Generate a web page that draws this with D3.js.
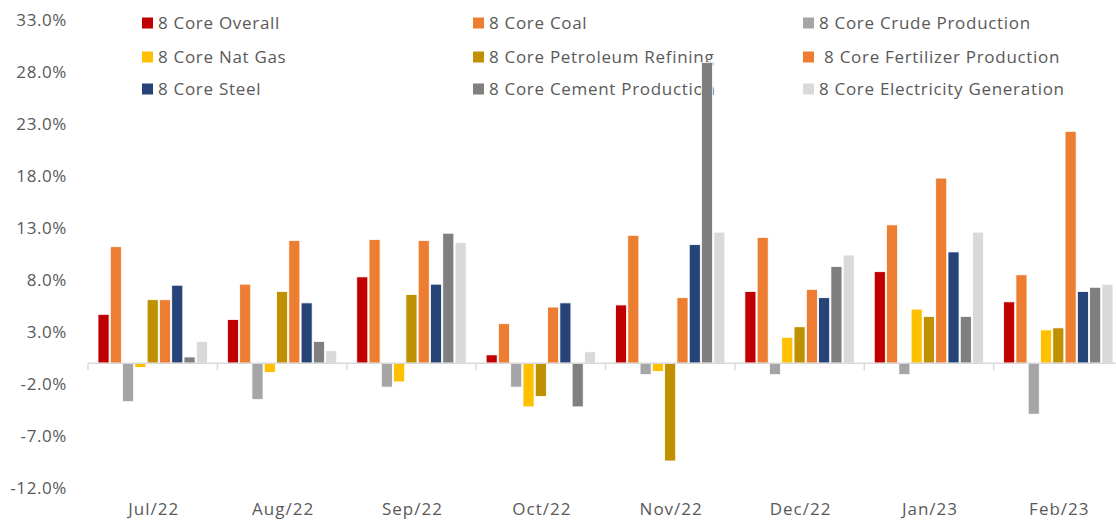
<!DOCTYPE html>
<html lang="en">
<head>
<meta charset="utf-8">
<title>8 Core growth</title>
<script src="https://d3js.org/d3.v7.min.js"></script>
<style>
  body { margin: 0; background: #fff; }
  text { font-family: "Open Sans", sans-serif; fill: #595959; }
</style>
</head>
<body>
<script>
// months on x axis
var months = ["Jul/22", "Aug/22", "Sep/22", "Oct/22", "Nov/22", "Dec/22", "Jan/23", "Feb/23"];

// series names (legend order = bar order)
var seriesNames = ["8 Core Overall", "8 Core Coal", "8 Core Crude Production",
                   "8 Core Nat Gas", "8 Core Petroleum Refining", " 8 Core Fertilizer Production",
                   "8 Core Steel", "8 Core Cement Production", "8 Core Electricity Generation"];
var colors = ["#c00000", "#ed7d31", "#a5a5a5", "#ffc000", "#bf9000", "#ed7d31", "#264478", "#7f7f7f", "#d9d9d9"];

// values in %, one array per series, by month
var overall     = [4.7, 4.2, 8.3, 0.8, 5.6, 6.9, 8.8, 5.9];
var coal        = [11.2, 7.6, 11.9, 3.8, 12.3, 12.1, 13.3, 8.5];
var crude       = [-3.7, -3.5, -2.3, -2.3, -1.1, -1.1, -1.1, -4.9];
var natGas      = [-0.4, -0.9, -1.8, -4.2, -0.8, 2.5, 5.2, 3.2];
var refinery    = [6.1, 6.9, 6.6, -3.2, -9.4, 3.5, 4.5, 3.4];
var fertilizer  = [6.1, 11.8, 11.8, 5.4, 6.3, 7.1, 17.8, 22.3];
var steel       = [7.5, 5.8, 7.6, 5.8, 11.4, 6.3, 10.7, 6.9];
var cement      = [0.6, 2.1, 12.5, -4.2, 28.9, 9.3, 4.5, 7.3];
var electricity = [2.1, 1.2, 11.6, 1.1, 12.6, 10.4, 12.6, 7.6];

var yTicks = [-12, -7, -2, 3, 8, 13, 18, 23, 28, 33];

var allSeries = [overall, coal, crude, natGas, refinery, fertilizer, steel, cement, electricity];

var w = 1116, h = 530;
var plot = {left: 88, right: 1123, top: 20, bottom: 488};

var svg = d3.select("body").append("svg")
  .attr("width", w)
  .attr("height", h);

var x0 = d3.scaleBand()
  .domain(months)
  .range([plot.left, plot.right])
  .padding(0);

var x1 = d3.scaleBand()
  .domain(d3.range(seriesNames.length))
  .range([10, x0.bandwidth() - 10])
  .paddingInner(0.1);

var y = d3.scaleLinear()
  .domain([-12, 33])
  .range([plot.bottom, plot.top]);

// legend first so the tall bars sit on top of it, 3 columns x 3 rows
var legX = [142, 473, 803];
var legY = [23, 57, 89];

var leg = svg.selectAll("g.leg")
  .data(seriesNames)
  .enter()
  .append("g")
  .attr("class", "leg")
  .attr("transform", function(d, i){
    return "translate(" + legX[i % 3] + "," + legY[Math.floor(i / 3)] + ")";
  });

leg.append("rect")
  .attr("x", 0)
  .attr("y", -5.5)
  .attr("width", 11)
  .attr("height", 11)
  .attr("fill", function(d, i){ return colors[i]; });

leg.append("text")
  .attr("x", 16)
  .attr("y", 0)
  .attr("dy", "0.35em")
  .style("font-size", "17px")
  .style("letter-spacing", "0.7px")
  .style("white-space", "pre")
  .attr("xml:space", "preserve")
  .text(function(d){ return d; });

// y axis labels
var yAxis = d3.axisLeft(y)
  .tickValues(yTicks)
  .tickSize(0)
  .tickPadding(0)
  .tickFormat(function(d){ return d.toFixed(1) + "%"; });

svg.append("g")
  .attr("transform", "translate(67,0)")
  .call(yAxis)
  .call(function(g){ g.select(".domain").remove(); })
  .selectAll("text")
  .style("font-size", "17px")
  .style("letter-spacing", "0.6px")
  .style("font-family", "'Open Sans', sans-serif")
  .attr("fill", "#595959");

// bars
var groups = svg.selectAll("g.month")
  .data(months)
  .enter()
  .append("g")
  .attr("class", "month")
  .attr("transform", function(d){ return "translate(" + x0(d) + ",0)"; });

groups.selectAll("rect")
  .data(function(m, mi){
    return allSeries.map(function(s, si){ return {si: si, v: s[mi]}; });
  })
  .enter()
  .append("rect")
  .attr("x", function(d){ return x1(d.si); })
  .attr("y", function(d){ return y(Math.max(0, d.v)); })
  .attr("width", x1.bandwidth())
  .attr("height", function(d){ return Math.abs(y(d.v) - y(0)); })
  .attr("fill", function(d){ return colors[d.si]; })
  .attr("stroke", "#fff")
  .attr("stroke-width", 0.8);

// zero line with category tick marks
svg.append("line")
  .attr("x1", plot.left)
  .attr("x2", w)
  .attr("y1", y(0))
  .attr("y2", y(0))
  .attr("stroke", "#d9d9d9")
  .attr("stroke-width", 1.5);

svg.selectAll("line.cattick")
  .data(months)
  .enter()
  .append("line")
  .attr("class", "cattick")
  .attr("x1", function(d){ return x0(d); })
  .attr("x2", function(d){ return x0(d); })
  .attr("y1", y(0))
  .attr("y2", y(0) + 7)
  .attr("stroke", "#d9d9d9")
  .attr("stroke-width", 1.5);

// month labels at the bottom
var xAxis = d3.axisBottom(x0).tickSize(0).tickPadding(0);
svg.append("g")
  .attr("transform", "translate(1,503)")
  .call(xAxis)
  .call(function(g){ g.select(".domain").remove(); })
  .selectAll("text")
  .style("font-size", "17px")
  .style("letter-spacing", "1px")
  .style("font-family", "'Open Sans', sans-serif")
  .attr("fill", "#595959");
</script>
</body>
</html>
